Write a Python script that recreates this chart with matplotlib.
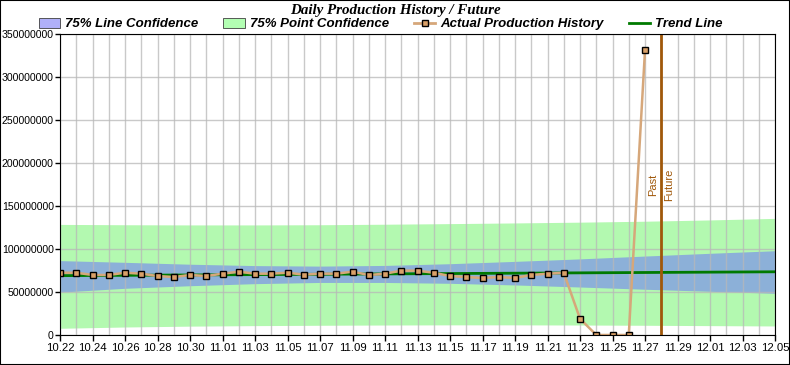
import numpy as np
import matplotlib
matplotlib.use("Agg")
import matplotlib.pyplot as plt
from matplotlib.patches import Patch
from matplotlib.lines import Line2D

plt.rcParams["font.family"] = ["Liberation Sans", "DejaVu Sans"]

# day offsets from 10.22
hist_days = list(range(0, 37))
hist_vals = [72.4, 72.4, 69.8, 69.8, 72.4, 71.3, 68.6, 67.4, 69.8, 68.6,
             71.3, 73.6, 71.3, 71.3, 72.4, 70.2, 71.3, 71.3, 73.6, 69.8,
             71.3, 74.8, 74.8, 72.4, 68.6, 67.4, 66.3, 67.4, 66.3, 69.8,
             71.3, 72.4, 19.0, 0.0, 0.0, 0.0, 331.0]  # millions

trend_days = [0, 44]
trend_vals = [69.0, 73.5]

band_days = [0, 4, 8, 12, 16, 20, 24, 28, 32, 36, 40, 44]
line_hi = [86.5, 84.5, 82.3, 80.7, 80.1, 80.9, 82.9, 85.6, 88.5, 91.8, 95.0, 98.0]
line_lo = [49.8, 54.3, 57.3, 59.7, 61.1, 61.1, 60.1, 58.2, 55.8, 53.2, 50.8, 48.5]
pt_hi = [128.6, 128.2, 128.0, 128.0, 128.2, 128.8, 129.5, 130.3, 131.2, 132.3, 133.8, 135.6]
pt_lo = [7.8, 9.3, 10.3, 10.9, 11.3, 11.6, 11.8, 11.8, 11.6, 11.3, 10.9, 10.5]

divider_day = 37

tick_days = list(range(0, 45, 2))
tick_labels = ["10.22", "10.24", "10.26", "10.28", "10.30", "11.01", "11.03", "11.05",
               "11.07", "11.09", "11.11", "11.13", "11.15", "11.17", "11.19", "11.21",
               "11.23", "11.25", "11.27", "11.29", "12.01", "12.03", "12.05"]

M = 1e6
fig = plt.figure(figsize=(7.9, 3.65), dpi=100)
ax = fig.add_axes([60/790, 30/365, 715/790, 301/365])

c_pt = "#b3f9b0"
c_line = "#8cb0d8"
ax.fill_between(band_days, np.array(pt_lo)*M, np.array(pt_hi)*M, color=c_pt, lw=0, zorder=1)
ax.fill_between(band_days, np.array(line_lo)*M, np.array(line_hi)*M, color=c_line, lw=0, zorder=2)

ax.set_xticks(tick_days)
ax.set_xticklabels(tick_labels)
ax.set_xticks(range(0, 45), minor=True)
ax.set_yticks(np.arange(0, 351, 50)*M)
ax.set_yticklabels([str(int(v)) for v in np.arange(0, 351, 50)*M])
ax.grid(True, which="both", axis="x", color="#b8b8b8", alpha=0.75, lw=1, zorder=3)
ax.grid(True, which="major", axis="y", color="#b8b8b8", alpha=0.75, lw=1, zorder=3)
ax.set_axisbelow(False)
ax.tick_params(which="minor", length=0)
ax.tick_params(axis="x", which="major", length=4, width=1, labelsize=8.2, pad=2)
ax.tick_params(axis="y", which="major", length=3.5, width=1, labelsize=7.6, pad=1)

ax.plot(trend_days, np.array(trend_vals)*M, color="#007a00", lw=2, zorder=4)
ax.plot(hist_days, np.array(hist_vals)*M, color="#d6a77a", lw=1.8, zorder=5,
        marker="s", ms=5, mfc="#d9a068", mec="black", mew=1)

ax.axvline(divider_day, color="#a0580a", lw=2, zorder=6)
ax.text(divider_day - 0.2, 175*M, "Past", rotation=90, color="#a0580a",
        fontsize=8, ha="right", va="center")
ax.text(divider_day + 0.2, 175*M, "Future", rotation=90, color="#a0580a",
        fontsize=8, ha="left", va="center")

ax.set_xlim(0, 44)
ax.set_ylim(0, 350*M)
for s in ax.spines.values():
    s.set_color("black")
    s.set_zorder(7)

fig.text(0.5, 0.972, "Daily Production History / Future", ha="center", va="center",
         fontsize=10.8, fontweight="bold", style="italic", family="Liberation Serif")

handles = [Patch(facecolor="#b0b0f8", edgecolor="#404040", lw=0.6),
           Patch(facecolor="#b3ffb3", edgecolor="#404040", lw=0.6),
           Line2D([], [], color="#d6a77a", lw=2, marker="s", ms=5, mfc="#d9a068", mec="black"),
           Line2D([], [], color="#007a00", lw=2)]
labels = ["75% Line Confidence", "75% Point Confidence", "Actual Production History", "Trend Line"]
fig.legend(handles, labels, ncol=4, loc="center", bbox_to_anchor=(0.482, 0.934),
           frameon=False, prop={"family": "Liberation Sans", "weight": "bold",
                                "style": "italic", "size": 9.5},
           handlelength=1.6, handleheight=0.8, handletextpad=0.4, columnspacing=1.9,
           borderpad=0, borderaxespad=0)

fig.patches.append(plt.Rectangle((0, 0), 1, 1, transform=fig.transFigure, fill=False,
                                 edgecolor="black", lw=1.5))
fig.savefig("out.png", dpi=100)
